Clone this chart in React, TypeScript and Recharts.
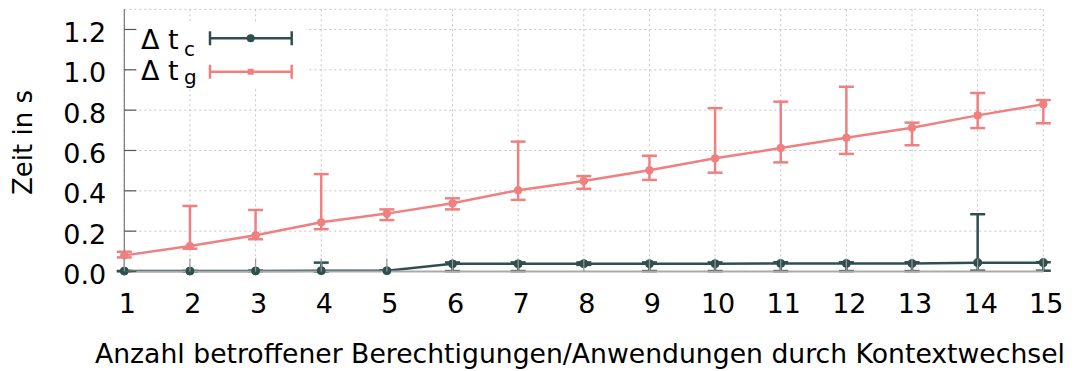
import React from "react";
import {
  LineChart,
  Line,
  XAxis,
  YAxis,
  CartesianGrid,
  ErrorBar,
} from "recharts";

const categories = [1, 2, 3, 4, 5, 6, 7, 8, 9, 10, 11, 12, 13, 14, 15];

// Δ t_c (dark series): mean, lower and upper error bounds
const tcMean = [0.002, 0.002, 0.003, 0.004, 0.004, 0.038, 0.038, 0.039, 0.039, 0.039, 0.04, 0.04, 0.04, 0.044, 0.044];
const tcLow = [0.002, 0.002, 0.003, 0.0, 0.004, 0.002, 0.002, 0.033, 0.002, 0.002, 0.002, 0.002, 0.002, 0.004, 0.004];
const tcHigh = [0.002, 0.002, 0.003, 0.044, 0.004, 0.045, 0.045, 0.045, 0.045, 0.045, 0.046, 0.046, 0.046, 0.284, 0.046];

// Δ t_g (light red series)
const tgMean = [0.08, 0.126, 0.18, 0.244, 0.287, 0.338, 0.403, 0.449, 0.502, 0.561, 0.612, 0.663, 0.713, 0.774, 0.829];
const tgLow = [0.07, 0.113, 0.16, 0.21, 0.255, 0.308, 0.355, 0.41, 0.454, 0.49, 0.541, 0.583, 0.626, 0.711, 0.735];
const tgHigh = [0.098, 0.325, 0.305, 0.483, 0.308, 0.363, 0.644, 0.473, 0.574, 0.81, 0.842, 0.916, 0.738, 0.885, 0.85];

const yTicks = [0, 0.2, 0.4, 0.6, 0.8, 1.0, 1.2];
const xLabel = "Anzahl betroffener Berechtigungen/Anwendungen durch Kontextwechsel";
const yLabel = "Zeit in s";

const data = categories.map((x, i) => ({
  x,
  tc: tcMean[i],
  tcErr: [tcMean[i] - tcLow[i], tcHigh[i] - tcMean[i]],
  tg: tgMean[i],
  tgErr: [tgMean[i] - tgLow[i], tgHigh[i] - tgMean[i]],
}));

const FONT = "'DejaVu Sans', Verdana, sans-serif";
const FS = 27;
const DARK = "#2f4f4f";
const RED = "#f08080";

const W = 1070;
const H = 363;

const LeftTick = (props: any) => {
  const { x, y, payload } = props;
  return (
    <g>
      <line x1={x} x2={x + 12} y1={y} y2={y} stroke="#555" strokeWidth={1.2} />
      <text
        x={x - 18}
        y={y + 12.5}
        textAnchor="end"
        fontFamily={FONT}
        fontSize={FS}
        fill="#000"
      >
        {Number(payload.value).toFixed(1)}
      </text>
    </g>
  );
};

const RightTick = (props: any) => {
  const { x, y } = props;
  return <line x1={x} x2={x - 14} y1={y} y2={y} stroke="#555" strokeWidth={1.2} />;
};

const BottomTick = (props: any) => {
  const { x, y, payload } = props;
  return (
    <g>
      <line x1={x} x2={x} y1={y} y2={y - 13} stroke="#999" strokeWidth={1.2} />
      <text
        x={x + 3}
        y={y + 41}
        textAnchor="middle"
        fontFamily={FONT}
        fontSize={FS}
        fill="#000"
      >
        {payload.value}
      </text>
    </g>
  );
};

const TopTick = (props: any) => {
  const { x, y } = props;
  return <line x1={x} x2={x} y1={y} y2={y + 13} stroke="#999" strokeWidth={1.2} />;
};

export default function App() {
  return (
    <div style={{ position: "relative", width: W, height: H }}>
      <style>{"html,body{overflow:hidden}"}</style>
      <LineChart
        width={W}
        height={H}
        data={data}
        margin={{ top: 1.3, right: 34.7, left: 0, bottom: 0 }}
      >
        <CartesianGrid stroke="#c4c4c4" strokeDasharray="2 3" strokeWidth={1} />
        <XAxis
          dataKey="x"
          type="number"
          domain={[1, 15]}
          ticks={categories}
          interval={0}
          height={99.5}
          tickSize={0}
          tickMargin={0}
          tick={<BottomTick />}
          axisLine={{ stroke: "#aaa", strokeWidth: 2 }}
          tickLine={false}
        />
        <XAxis
          xAxisId="top"
          orientation="top"
          dataKey="x"
          type="number"
          domain={[1, 15]}
          ticks={categories}
          interval={0}
          height={0}
          tickSize={0}
          tickMargin={0}
          tick={<TopTick />}
          axisLine={{ stroke: "#888", strokeWidth: 1.2 }}
          tickLine={false}
        />
        <YAxis
          type="number"
          domain={[0, 1.3]}
          ticks={yTicks}
          interval={0}
          width={116.3}
          tickSize={0}
          tickMargin={0}
          tick={<LeftTick />}
          axisLine={{ stroke: "#777", strokeWidth: 1.2 }}
          tickLine={false}
        />
        <YAxis
          yAxisId="right"
          orientation="right"
          type="number"
          domain={[0, 1.3]}
          ticks={yTicks}
          interval={0}
          width={0}
          tickSize={0}
          tickMargin={0}
          tick={<RightTick />}
          axisLine={{ stroke: "#888", strokeWidth: 1.2 }}
          tickLine={false}
        />
        <Line
          dataKey="tg"
          stroke={RED}
          strokeWidth={2.5}
          dot={{ r: 3.8, fill: RED, stroke: RED, strokeWidth: 1 }}
          isAnimationActive={false}
        >
          <ErrorBar dataKey="tgErr" width={7.5} stroke={RED} strokeWidth={2.5} direction="y" />
        </Line>
        <Line
          dataKey="tc"
          stroke={DARK}
          strokeWidth={2.5}
          dot={{ r: 4, fill: DARK, stroke: DARK, strokeWidth: 1 }}
          isAnimationActive={false}
        >
          <ErrorBar dataKey="tcErr" width={7.5} stroke={DARK} strokeWidth={2.5} direction="y" />
        </Line>
      </LineChart>
      <svg
        width={W}
        height={H}
        style={{ position: "absolute", left: 0, top: 0, pointerEvents: "none" }}
      >
        {/* legend box */}
        <rect x={129} y={14} width={169} height={66} fill="#fff" />
        <text x={133} y={41.3} fontFamily={FONT} fontSize={FS}>
          Δ t
        </text>
        <text x={176} y={48} fontFamily={FONT} fontSize={20}>c</text>
        <line x1={202} x2={283.7} y1={30.3} y2={30.3} stroke={DARK} strokeWidth={2.5} />
        <line x1={202} x2={202} y1={23.3} y2={37.3} stroke={DARK} strokeWidth={2.5} />
        <line x1={283.7} x2={283.7} y1={23.3} y2={37.3} stroke={DARK} strokeWidth={2.5} />
        <circle cx={242.7} cy={30.3} r={4} fill={DARK} />

        <text x={133} y={72} fontFamily={FONT} fontSize={FS}>
          Δ t
        </text>
        <text x={176} y={76} fontFamily={FONT} fontSize={20}>g</text>
        <line x1={202} x2={283.7} y1={63.7} y2={63.7} stroke={RED} strokeWidth={2.5} />
        <line x1={202} x2={202} y1={56.7} y2={70.7} stroke={RED} strokeWidth={2.5} />
        <line x1={283.7} x2={283.7} y1={56.7} y2={70.7} stroke={RED} strokeWidth={2.5} />
        <rect x={239.7} y={60.7} width={6} height={6} fill={RED} />

        {/* axis titles */}
        <text
          x={87}
          y={355.3}
          fontFamily={FONT}
          fontSize={27}
          textLength={970}
          lengthAdjust="spacingAndGlyphs"
        >
          {xLabel}
        </text>
        <text
          transform="translate(23.7,134.5) rotate(-90)"
          textAnchor="middle"
          fontFamily={FONT}
          fontSize={26}
        >
          {yLabel}
        </text>
      </svg>
    </div>
  );
}
